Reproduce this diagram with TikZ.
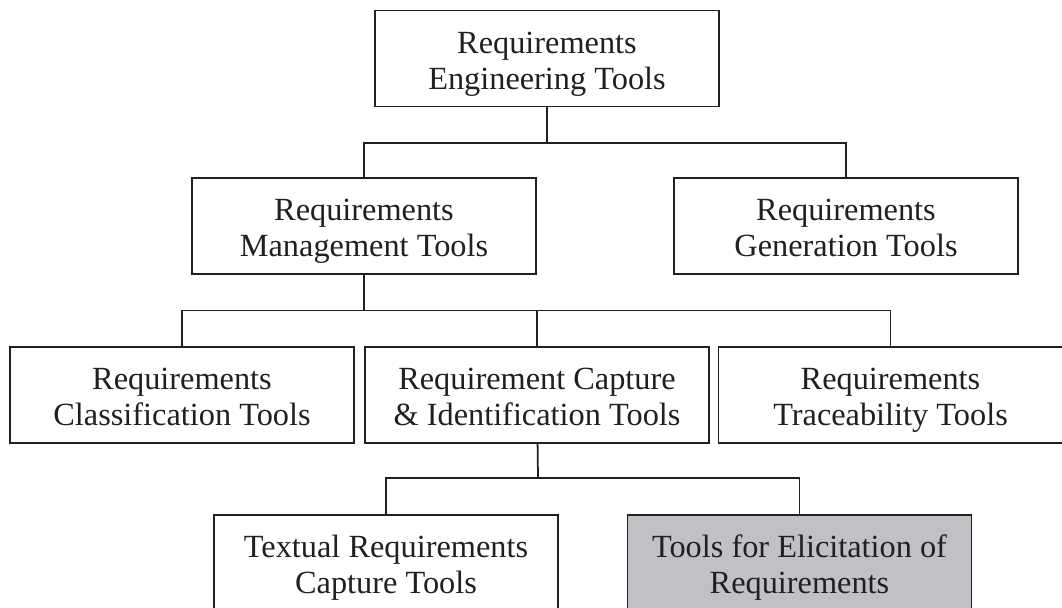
\documentclass[tikz,border=0pt]{standalone}
\usepackage{fontspec}
\setmainfont{Liberation Serif}
\usepackage{tikz}

\definecolor{inkgray}{RGB}{35,31,32}
\definecolor{elicitgray}{RGB}{192,193,197}

\begin{document}
\begin{tikzpicture}[x=0.02cm, y=-0.02cm,
    toolbox/.style={draw=inkgray, line width=1pt, minimum width=6.88cm,
      minimum height=1.92cm, align=center, text=inkgray,
      font=\fontsize{18.4}{20.5}\selectfont,
      text height=37pt, text depth=2.2pt},
    link/.style={draw=inkgray, line width=1pt}]
    \useasboundingbox (0, 0) rectangle (1062, 608);

    % Top
    \node[toolbox] (ret) at (547, 58.5) {Requirements\\Engineering Tools};

    % Second level
    \node[toolbox] (rmt) at (364, 226) {Requirements\\Management Tools};
    \node[toolbox] (rgt) at (846, 226) {Requirements\\Generation Tools};

    % Third level
    \node[toolbox] (rct) at (182, 395) {Requirements\\Classification Tools};
    \node[toolbox] (rci) at (537, 395) {Requirement Capture\\\& Identification Tools};
    \node[toolbox] (rtt) at (890.5, 395) {Requirements\\Traceability Tools};

    % Fourth level
    \node[toolbox] (trc) at (386, 563) {Textual Requirements\\Capture Tools};
    \node[toolbox, fill=elicitgray] (ter) at (799.5, 563) {Tools for Elicitation of\\Requirements};

    % Connectors
    \coordinate (j1) at (547, 143);
    \coordinate (j2) at (364, 310.5);
    \coordinate (j3) at (538, 478);
    \draw[link] (ret) -- (j1);
    \draw[link] (rmt.north) |- (j1) -| (rgt.north);
    \draw[link] (rmt) -- (j2);
    \draw[link] (rct.north) |- (j2) -| (rtt.north);
    \draw[link] (j2) -| (rci.north);
    \draw[link] (rci) -- (j3);
    \draw[link] (trc.north) |- (j3) -| (ter.north);
\end{tikzpicture}
\end{document}
